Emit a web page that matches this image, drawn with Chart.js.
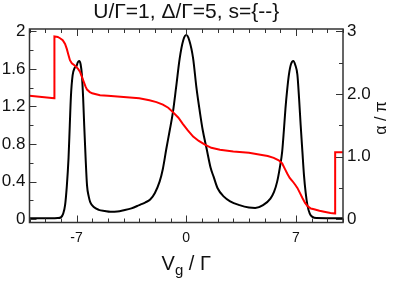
<!DOCTYPE html>
<html>
<head>
<meta charset="utf-8">
<script src="https://cdn.jsdelivr.net/npm/chart.js@4.4.1/dist/chart.umd.min.js"></script>
<style>
html, body { margin: 0; padding: 0; background: #fff; }
canvas { display: block; }
</style>
</head>
<body>
<canvas id="myChart" width="395" height="284"></canvas>
<script>
// titles
const chartTitle = 'U/Γ=1, Δ/Γ=5, s={--}';
const rightTitle = 'α / π';

// tick labels
const xTickLabels = [-7, 0, 7];
const leftTickLabels = [0, 0.4, 0.8, 1.2, 1.6, 2];
const rightTickLabels = [0, 1, 2, 3];

// black curve (left axis)
const blackX = [-10, -8.6, -8.2, -8.0, -7.85, -7.73, -7.62, -7.51, -7.43, -7.36, -7.25, -7.12, -7.0, -6.92, -6.83, -6.74,
  -6.66, -6.58, -6.51, -6.42, -6.33, -6.22, -6.12, -5.9, -5.58, -5.2, -4.84, -4.4, -3.98, -3.5, -3.0, -2.6, -2.3,
  -2.0, -1.7, -1.5, -1.27, -1.05, -0.85, -0.65, -0.42, -0.2, 0, 0.2, 0.44, 0.65, 0.87, 1.05, 1.3, 1.55, 1.75,
  2.0, 2.4, 2.8, 3.4, 4.0, 4.4, 4.9, 5.37, 5.6, 5.8, 5.97, 6.12, 6.23, 6.33, 6.44, 6.55, 6.68, 6.83, 6.96,
  7.09, 7.2, 7.3, 7.41, 7.51, 7.62, 7.73, 7.88, 8.05, 8.3, 10];
const blackY = [0.01, 0.01, 0.012, 0.02, 0.06, 0.15, 0.35, 0.65, 1.0, 1.3, 1.53, 1.61, 1.63, 1.67, 1.685, 1.65,
  1.54, 1.3, 1.0, 0.65, 0.36, 0.24, 0.18, 0.13, 0.1, 0.088, 0.08, 0.082, 0.095, 0.115, 0.15, 0.18, 0.21,
  0.28, 0.4, 0.53, 0.75, 0.95, 1.14, 1.4, 1.71, 1.9, 1.96, 1.9, 1.71, 1.4, 1.14, 0.95, 0.75, 0.55, 0.45,
  0.33, 0.24, 0.19, 0.15, 0.125, 0.12, 0.15, 0.22, 0.29, 0.4, 0.55, 0.72, 0.95, 1.18, 1.38, 1.54, 1.65, 1.685, 1.64,
  1.54, 1.28, 1.0, 0.72, 0.47, 0.28, 0.15, 0.06, 0.025, 0.012, 0.01];

// red curve (right axis, alpha/pi)
const redX = [-10, -8.42, -8.41, -8.2, -8.05, -7.88, -7.73, -7.62, -7.51, -7.42, -7.3, -7.09, -6.9, -6.77, -6.65,
  -6.55, -6.43, -6.33, -6.15, -6.0, -5.5, -5.0, -4.0, -3.0, -2.35, -1.9, -1.49, -1.15, -0.85, -0.5, -0.21,
  0.1, 0.44, 0.8, 1.19, 1.6, 2.15, 3.0, 4.0, 4.73, 5.2, 5.58, 5.9, 6.12, 6.3, 6.44, 6.6, 6.77, 6.95, 7.09,
  7.25, 7.41, 7.58, 7.73, 7.95, 8.15, 8.5, 8.8, 9.2, 9.49, 9.5, 10];
const redY = [1.97, 1.93, 2.92, 2.91, 2.89, 2.86, 2.8, 2.72, 2.62, 2.54, 2.49, 2.45, 2.4, 2.35, 2.27,
  2.2, 2.12, 2.07, 2.03, 2.01, 1.98, 1.97, 1.95, 1.93, 1.9, 1.87, 1.83, 1.78, 1.71, 1.62, 1.52,
  1.42, 1.32, 1.25, 1.19, 1.14, 1.11, 1.08, 1.06, 1.03, 1.01, 0.98, 0.94, 0.89, 0.8, 0.73, 0.66, 0.61, 0.55, 0.5,
  0.42, 0.34, 0.26, 0.21, 0.17, 0.16, 0.135, 0.12, 0.1, 0.09, 1.07, 1.07];

const fontFam = '"Liberation Sans", Arial, sans-serif';

// frame, inward ticks and the titles
const decor = {
  id: 'decor',
  afterDraw(chart) {
    const ctx = chart.ctx;
    const a = chart.chartArea;
    const sx = chart.scales.x, sy = chart.scales.y, sy1 = chart.scales.y1;
    ctx.save();
    ctx.strokeStyle = '#333';
    ctx.lineWidth = 1;
    ctx.beginPath();
    for (let v = -10; v <= 10; v++) {
      const px = Math.round(sx.getPixelForValue(v)) + 0.5;
      const len = xTickLabels.includes(v) ? 7 : 4;
      ctx.moveTo(px, a.bottom); ctx.lineTo(px, a.bottom - len);
      ctx.moveTo(px, a.top); ctx.lineTo(px, a.top + len);
    }
    for (let i = 0; i <= 10; i++) {
      const py = Math.round(sy.getPixelForValue(i * 0.2)) + 0.5;
      const len = i % 2 === 0 ? 7 : 4;
      ctx.moveTo(a.left, py); ctx.lineTo(a.left + len, py);
    }
    for (let i = 0; i <= 6; i++) {
      const py = Math.round(sy1.getPixelForValue(i * 0.5)) + 0.5;
      const len = i % 2 === 0 ? 7 : 4;
      ctx.moveTo(a.right, py); ctx.lineTo(a.right - len, py);
    }
    ctx.stroke();
    ctx.lineWidth = 1.5;
    ctx.strokeRect(a.left, a.top, a.right - a.left, a.bottom - a.top);

    ctx.fillStyle = '#111';
    // title
    ctx.font = '21px ' + fontFam;
    ctx.textAlign = 'center';
    ctx.textBaseline = 'alphabetic';
    ctx.fillText(chartTitle, (a.left + a.right) / 2, 18);

    // x title V_g / Γ
    ctx.textAlign = 'left';
    ctx.font = '20px ' + fontFam;
    const wV = ctx.measureText('V').width;
    const wRest = ctx.measureText(' / Γ').width;
    ctx.font = '15px ' + fontFam;
    const wg = ctx.measureText('g').width;
    let x0 = (a.left + a.right) / 2 - (wV + wg + wRest) / 2;
    ctx.font = '20px ' + fontFam;
    ctx.fillText('V', x0, 270);
    ctx.font = '15px ' + fontFam;
    ctx.fillText('g', x0 + wV, 275);
    ctx.font = '20px ' + fontFam;
    ctx.fillText(' / Γ', x0 + wV + wg, 270);

    // right title
    ctx.font = '16px ' + fontFam;
    ctx.translate(382, 118);
    ctx.rotate(-Math.PI / 2);
    ctx.textAlign = 'center';
    ctx.textBaseline = 'middle';
    ctx.fillText(rightTitle, 0, 0);
    ctx.restore();
  }
};

new Chart(document.getElementById('myChart'), {
  type: 'scatter',
  data: {
    datasets: [{
      label: 'alpha',
      data: redX.map((x, i) => ({x: x, y: redY[i]})),
      yAxisID: 'y1',
      showLine: true,
      borderColor: '#ff0000',
      borderWidth: 2,
      pointRadius: 0,
      tension: 0,
      order: 0
    }, {
      label: 'G',
      data: blackX.map((x, i) => ({x: x, y: blackY[i]})),
      yAxisID: 'y',
      showLine: true,
      borderColor: '#000',
      borderWidth: 2,
      pointRadius: 0,
      cubicInterpolationMode: 'monotone',
      order: 1
    }]
  },
  options: {
    responsive: false,
    animation: false,
    devicePixelRatio: 1,
    layout: {padding: {top: 29, left: 0, right: 0, bottom: 0}},
    plugins: {legend: {display: false}, tooltip: {enabled: false}, title: {display: false}},
    scales: {
      x: {
        type: 'linear', min: -10, max: 10,
        grid: {display: false, drawTicks: false}, border: {display: false},
        afterBuildTicks: s => { s.ticks = xTickLabels.map(v => ({value: v})); },
        afterFit: s => { s.height = 61.5; },
        ticks: {padding: 7, maxRotation: 0, color: '#111', font: {family: fontFam, size: 14}}
      },
      y: {
        type: 'linear', position: 'left', min: -0.035, max: 2.025,
        grid: {display: false, drawTicks: false}, border: {display: false},
        afterBuildTicks: s => { s.ticks = leftTickLabels.map(v => ({value: v})); },
        afterFit: s => { s.width = 29.5; },
        ticks: {padding: 4, color: '#111', font: {family: fontFam, size: 17},
          callback: v => (v === 0 || v === 2) ? String(v) : v.toFixed(1)}
      },
      y1: {
        type: 'linear', position: 'right', min: -0.0525, max: 3.0375,
        grid: {display: false, drawTicks: false}, border: {display: false},
        afterBuildTicks: s => { s.ticks = rightTickLabels.map(v => ({value: v})); },
        afterFit: s => { s.width = 52; },
        ticks: {padding: 4, color: '#111', font: {family: fontFam, size: 17},
          callback: v => (v === 0 || v === 3) ? String(v) : v.toFixed(1)}
      }
    }
  },
  plugins: [decor]
});
</script>
</body>
</html>
